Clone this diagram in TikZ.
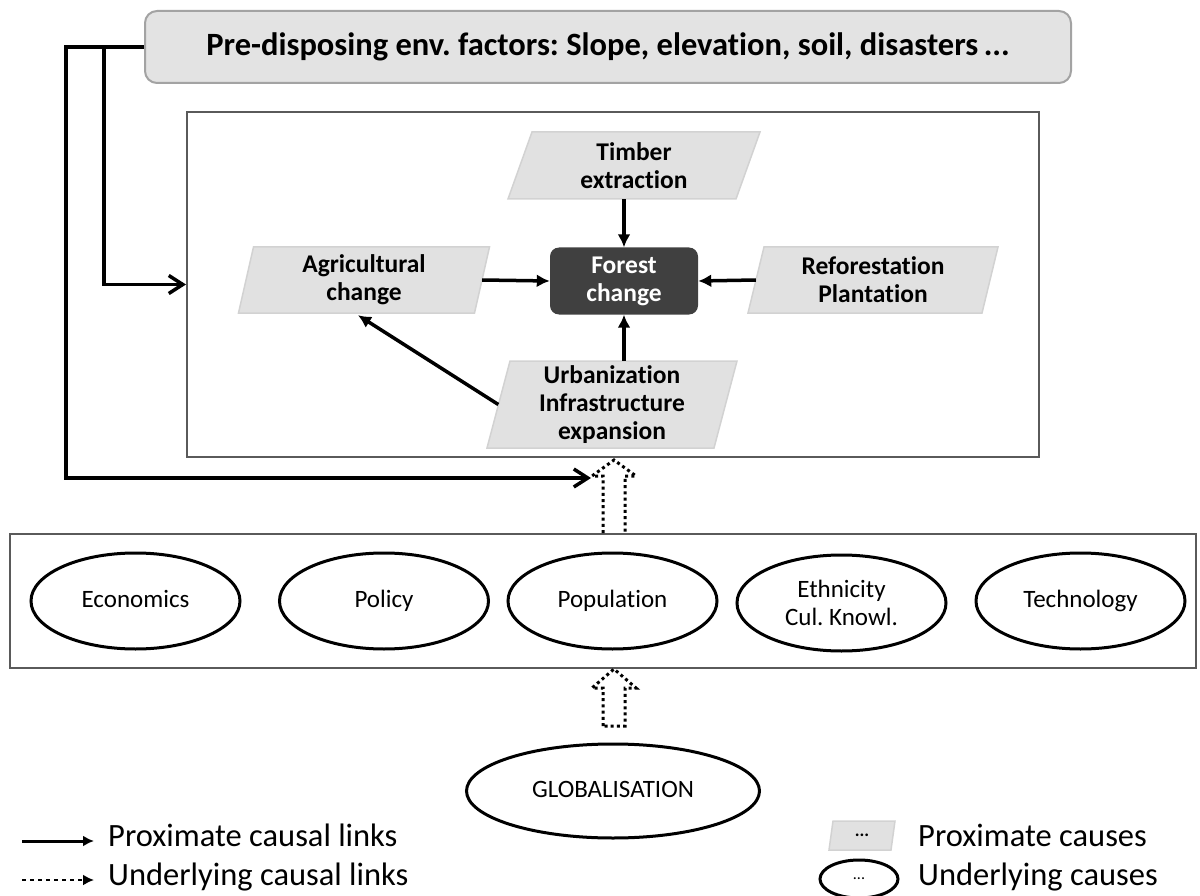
\documentclass[tikz,border=0pt]{standalone}
\usepackage{fontspec}
\setmainfont{Carlito}[Ligatures=NoCommon]
\usetikzlibrary{arrows.meta,shapes.geometric,calc}
\frenchspacing

\definecolor{topfill}{HTML}{E3E3E3}
\definecolor{topline}{HTML}{A3A3A3}
\definecolor{parafill}{HTML}{E1E1E1}
\definecolor{paraline}{HTML}{D2D2D2}
\definecolor{framegray}{HTML}{5A5A5A}
\definecolor{forestfill}{HTML}{404040}

% proximate cause: a slanted box with a named rectangle node carrying its text
% #1 name, #2 cx, #3 cy, #4 half width (mid height), #5 half height, #6 slant, #7 text
\newcommand\proxbox[7]{%
  \path[fill=parafill, draw=paraline, line width=1.5]
    ({#2-#4+#6},{#3-#5}) -- ({#2+#4+#6},{#3-#5}) --
    ({#2+#4-#6},{#3+#5}) -- ({#2-#4-#6},{#3+#5}) -- cycle;
  \node[proxtext, minimum width={2*#4}, minimum height={2*#5}] (#1) at (#2,#3) {#7};
}

\tikzset{
  proxtext/.style={inner sep=0pt, align=center, font=\fontsize{25.5}{28}\selectfont\bfseries},
  undercause/.style={ellipse, draw, line width=3, inner sep=0pt,
    minimum width=209, minimum height=96, align=center,
    font=\fontsize{25}{28}\selectfont},
  oneline/.style={text height=17pt, text depth=5pt},
  link/.style={line width=3.5, -{Latex[length=13, width=13]}},
  outerlink/.style={line width=3.5, -{Straight Barb[length=14, width=18, line width=3.5]}},
  dotarrow/.style={line width=3, dash pattern=on 3pt off 3.2pt},
  legendtext/.style={anchor=base west, inner sep=0pt, font=\fontsize{32.5}{36}\selectfont},
}

\begin{document}
\begin{tikzpicture}[x=1pt, y=-1pt]
\useasboundingbox (0,0) rectangle (1200,896);

% pre-disposing factors
\node[draw=topline, fill=topfill, line width=2, rounded corners=12,
      minimum width=926, minimum height=72, inner sep=0pt,
      font=\fontsize{32.5}{36}\selectfont\bfseries] (top) at (608,47)
      {Pre-disposing env. factors: Slope, elevation, soil, disasters\,...};

% frame around the proximate causes
\node[draw=framegray, line width=2, minimum width=852, minimum height=345, inner sep=0pt]
  (frame) at (613,284.5) {};

% proximate causes
\proxbox{timber}{634}{165.5}{114}{33.5}{12}{Timber\\extraction}
\proxbox{agri}{364}{280}{118}{33}{7.5}{Agricultural\\change}
\proxbox{refor}{873}{280}{117}{33}{8}{Reforestation\\Plantation}
\proxbox{urban}{612}{404.5}{113.5}{43.5}{11.5}{Urbanization\\Infrastructure\\expansion}

\node[fill=forestfill, rounded corners=9, minimum width=148, minimum height=67,
      inner sep=0pt, align=center, text=white,
      font=\fontsize{25.5}{28}\selectfont\bfseries] (forest) at (624,281) {Forest\\change};

% links between proximate causes
\draw[link] (forest.north |- timber.south) -- (forest.north);
\draw[link] (agri.east) -- (forest.west);
\draw[link] (refor.west) -- (forest.east);
\draw[link] (forest.south |- urban.north) -- (forest.south);
\draw[link] (urban.west) -- ($(agri.south)+(-6,2)$);

% underlying causes
\node[draw=framegray, line width=2, minimum width=1186, minimum height=134, inner sep=0pt]
  (under) at (603,601) {};
\node[undercause, oneline] (econ)  at (135.5,601) {Economics};
\node[undercause, oneline] (policy) at (384,601) {Policy};
\node[undercause, oneline] (pop)   at (612.5,601) {Population};
\node[undercause] (ethn)  at (841.5,603) {Ethnicity\\Cul. Knowl.};
\node[undercause, oneline] (tech)  at (1080.5,601) {Technology};

\node[undercause, oneline, minimum width=293, minimum height=94] (glob) at (613,791) {GLOBALISATION};

% hollow dotted arrows between the levels
\draw[dotarrow, shift={(frame.south)}]
  (-10,75) -- (-10,18) -- (-21,18) -- (1,2) -- (23,18) -- (12,18) -- (12,75);
\draw[dotarrow, shift={(under.south)}]
  (0,57) -- (0,19) -- (-11,19) -- (11,0) -- (33,19) -- (22,19) -- (22,57) -- cycle;
\coordinate (upin) at ($(frame.south)+(-22,20)$);

% links from the pre-disposing factors
\coordinate (j1) at (66,47);
\coordinate (j2) at (104,47);
\draw[outerlink] (top.west) -- (j1) |- (upin);
\draw[outerlink] (j2) |- (frame.west);

% legend
\coordinate (l1a) at (22,841);
\coordinate (l1b) at (94,841);
\coordinate (l2a) at (22,880);
\coordinate (l2b) at (94,880);
\draw[line width=3, -{Latex[length=11, width=11]}] (l1a) -- (l1b);
\draw[line width=2, dash pattern=on 4pt off 4pt, -{Latex[length=11, width=11]}] (l2a) -- (l2b);
\node[legendtext] (lg1) at (108,846) {Proximate causal links};
\node[legendtext] (lg2) at (108,885) {Underlying causal links};

\proxbox{lgbox}{862}{835.5}{31}{14.5}{2}{\fontsize{18}{18}\selectfont ...}
\node[ellipse, draw, line width=3, minimum width=78, minimum height=38, inner sep=0pt,
      font=\fontsize{16}{18}\selectfont] (lgell) at (859,879) {...};
\node[legendtext] (lg3) at (918,846) {Proximate causes};
\node[legendtext] (lg4) at (918,885) {Underlying causes};
\end{tikzpicture}
\end{document}
